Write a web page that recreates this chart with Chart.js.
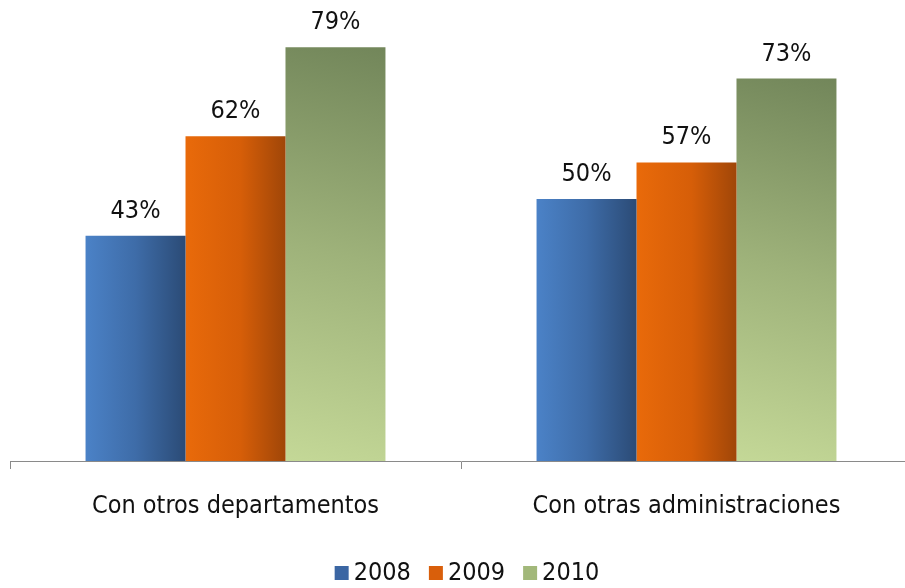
<!DOCTYPE html>
<html>
<head>
<meta charset="utf-8">
<script src="https://cdn.jsdelivr.net/npm/chart.js@4/dist/chart.umd.min.js"></script>
<style>
  html, body { margin: 0; padding: 0; background: #fff; overflow: hidden; }
  #wrap { width: 916px; height: 588px; }
</style>
</head>
<body>
<div id="wrap"><canvas id="chart" width="916" height="588"></canvas></div>
<script>
const categories = ['Con otros departamentos', 'Con otras administraciones'];
const years = ['2008', '2009', '2010'];
const values2008 = [43, 50];
const values2009 = [62, 57];
const values2010 = [79, 73];

const FONT = "'DejaVu Sans Condensed', 'DejaVu Sans', Arial, sans-serif";
const solidColors = ['#3b66a3', '#d95f0b', '#a2b87a'];

// bar position in pixels, worked out from the scales
function barBox(chart, datasetIndex, dataIndex) {
  const xs = chart.scales.x, ys = chart.scales.y;
  const cat = xs.width / categories.length;
  const w = cat * 0.665 / 3;
  const cx = xs.getPixelForValue(dataIndex) + (datasetIndex - 1) * w;
  const v = chart.data.datasets[datasetIndex].data[dataIndex];
  return { left: cx - w / 2, right: cx + w / 2, top: ys.getPixelForValue(v), bottom: ys.getPixelForValue(0) };
}

function gradientFill(context) {
  const chart = context.chart;
  if (!chart.chartArea || !chart.scales.x || context.dataIndex === undefined) return solidColors[context.datasetIndex];
  const b = barBox(chart, context.datasetIndex, context.dataIndex);
  const c = chart.ctx;
  let g;
  if (context.datasetIndex === 0) {
    g = c.createLinearGradient(b.left, 0, b.right, 0);
    g.addColorStop(0, '#4b82c7');
    g.addColorStop(0.5, '#3e6ca8');
    g.addColorStop(1, '#2b4b76');
  } else if (context.datasetIndex === 1) {
    g = c.createLinearGradient(b.left, 0, b.right, 0);
    g.addColorStop(0, '#e96a0a');
    g.addColorStop(0.55, '#d65e08');
    g.addColorStop(1, '#a04608');
  } else {
    g = c.createLinearGradient(b.right, b.top, b.left, b.bottom);
    g.addColorStop(0, '#72865a');
    g.addColorStop(0.5, '#9eb27a');
    g.addColorStop(1, '#c4d897');
  }
  return g;
}

// value labels above the bars
const valueLabels = {
  id: 'valueLabels',
  afterDatasetsDraw(chart) {
    const ctx = chart.ctx;
    ctx.save();
    ctx.font = '25px ' + FONT;
    ctx.fillStyle = '#111';
    ctx.textAlign = 'center';
    ctx.textBaseline = 'alphabetic';
    chart.data.datasets.forEach((ds, i) => {
      chart.getDatasetMeta(i).data.forEach((bar, j) => {
        ctx.fillText(ds.data[j] + '%', bar.x, bar.y - 18);
      });
    });
    ctx.restore();
  }
};

// legend: small squares close to the year text, centred under the plot
const yearLegend = {
  id: 'yearLegend',
  afterDraw(chart) {
    const ctx = chart.ctx;
    ctx.save();
    ctx.font = '25px ' + FONT;
    ctx.textBaseline = 'middle';
    const box = 14, gap = 5, itemGap = 18;
    const widths = years.map(t => box + gap + ctx.measureText(t).width);
    const total = widths.reduce((a, b) => a + b, 0) + itemGap * (years.length - 1);
    let x = 467 - total / 2;
    const y = 573;
    years.forEach((t, i) => {
      ctx.fillStyle = solidColors[i];
      ctx.fillRect(x, y - 7, box, box);
      ctx.fillStyle = '#111';
      ctx.fillText(t, x + box + gap, y);
      x += widths[i] + itemGap;
    });
    ctx.restore();
  }
};

new Chart(document.getElementById('chart'), {
  type: 'bar',
  data: {
    labels: categories,
    datasets: [
      { label: years[0], data: values2008, backgroundColor: gradientFill },
      { label: years[1], data: values2009, backgroundColor: gradientFill },
      { label: years[2], data: values2010, backgroundColor: gradientFill }
    ]
  },
  options: {
    responsive: false,
    animation: false,
    layout: { padding: { left: 10, right: 4, top: 0, bottom: 49 } },
    datasets: {
      bar: {
        borderWidth: 0,
        categoryPercentage: 0.665,
        barPercentage: 1
      }
    },
    scales: {
      y: { display: false, min: 0, max: 88 },
      x: {
        grid: { drawOnChartArea: false, drawTicks: true, tickLength: 8, color: '#8a8a8a', offset: true },
        border: { color: '#8a8a8a', width: 1 },
        ticks: { color: '#111', padding: 22, font: { family: FONT, size: 25 } },
        afterFit(scale) { scale.height = 78; }
      }
    },
    plugins: {
      tooltip: { enabled: false },
      legend: { display: false }
    }
  },
  plugins: [valueLabels, yearLegend]
});
</script>
</body>
</html>
